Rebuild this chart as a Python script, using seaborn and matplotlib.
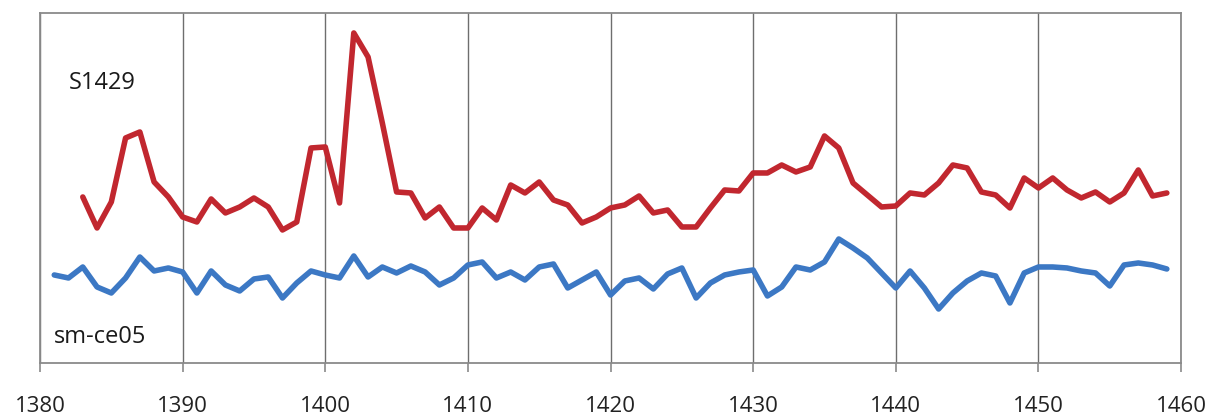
import numpy as np
import pandas as pd
import matplotlib
matplotlib.use("Agg")
import matplotlib.pyplot as plt
import seaborn as sns

# values (arbitrary units, no y scale shown)
years_s1429 = list(range(1383, 1460))
s1429 = [166, 135, 161, 225, 231, 181, 166, 146, 141, 164,
         150, 156, 165, 156, 133, 141, 215, 216, 160, 330,
         306, 240, 171, 170, 145, 156, 135, 135, 155, 143,
         178, 170, 181, 163, 158, 140, 146, 155, 158, 167,
         150, 153, 136, 136, 155, 173, 172, 190, 190, 198,
         191, 196, 227, 215, 180, 168, 156, 157, 170, 168,
         180, 198, 195, 171, 168, 155, 185, 175, 185, 173,
         165, 171, 161, 170, 193, 167, 170]

years_smce05 = list(range(1381, 1460))
smce05 = [88, 85, 96, 76, 70, 85, 106, 92, 95, 91,
          70, 92, 78, 72, 84, 86, 65, 80, 92, 88,
          85, 107, 86, 96, 90, 97, 91, 78, 85, 98,
          101, 85, 91, 83, 96, 99, 75, 83, 91, 68,
          82, 85, 74, 89, 95, 65, 80, 88, 91, 93,
          67, 76, 96, 93, 101, 124, 115, 105, 90, 75,
          92, 75, 54, 70, 82, 90, 87, 60, 90, 96,
          96, 95, 92, 90, 77, 98, 100, 98, 94]

x_ticks = list(range(1380, 1461, 10))

red = "#c1272f"
blue = "#3c78c4"
frame = "#8a8a8a"

sns.set_style("white")
plt.rcParams["font.family"] = ["Open Sans", "DejaVu Sans"]

fig, ax = plt.subplots(figsize=(12.12, 4.18), dpi=100)
fig.subplots_adjust(left=0.033, right=0.9745, bottom=0.1316, top=0.969)

sns.lineplot(x=years_s1429, y=s1429, ax=ax, color=red, linewidth=4.0)
sns.lineplot(x=years_smce05, y=smce05, ax=ax, color=blue, linewidth=4.0)

ax.set_xlim(1380, 1460)
ax.set_ylim(0, 350)
ax.set_xticks(x_ticks)
ax.set_xticklabels([str(t) for t in x_ticks], fontsize=16, color="#222222")
ax.set_yticks([])
ax.tick_params(axis="x", direction="out", length=6.5, width=1.2,
               color=frame, pad=17, bottom=True)
ax.grid(axis="x", color="#6e6e6e", linewidth=1.0)
ax.grid(axis="y", visible=False)
for side in ax.spines.values():
    side.set_color(frame)
    side.set_linewidth(1.3)

ax.text(1382.0, 280, "S1429", fontsize=17, color="#1a1a1a", va="center")
ax.text(1381.0, 26, "sm-ce05", fontsize=17, color="#1a1a1a", va="center")

fig.savefig("out.png", dpi=100)
